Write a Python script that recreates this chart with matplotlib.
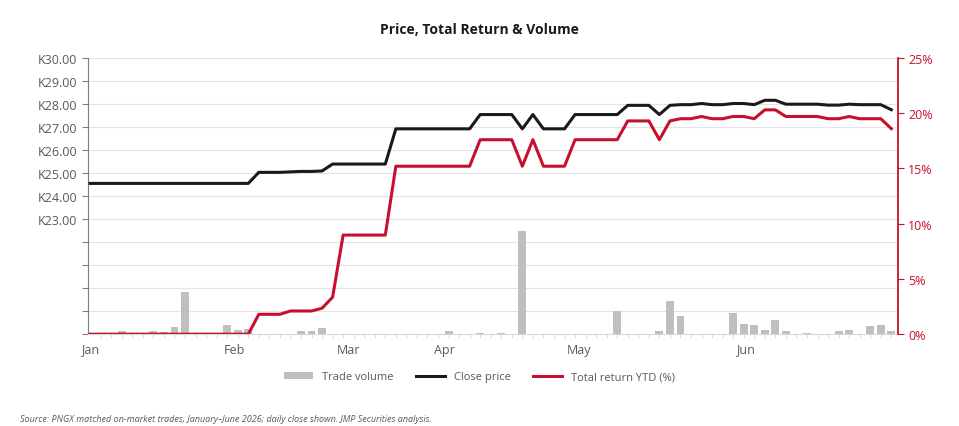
import numpy as np
import matplotlib
matplotlib.use("Agg")
import matplotlib.pyplot as plt
from matplotlib.ticker import FuncFormatter

plt.rcParams["font.family"] = ["Open Sans", "DejaVu Sans"]

# ── Data (one value per matched trading day) ─────────────────────────────────
close_price = (
    [24.55] * 16
    + [25.03, 25.03, 25.03, 25.05, 25.07, 25.07, 25.09]
    + [25.39] * 6
    + [26.92] * 8
    + [27.54, 27.54, 27.54, 27.54, 26.92, 27.54, 26.92, 26.92, 26.92]
    + [27.54] * 5
    + [27.94, 27.94, 27.94, 27.54, 27.94, 27.97, 27.97, 28.02, 27.97, 27.97,
       28.02, 28.02, 27.97, 28.16, 28.16, 27.99, 27.99, 27.99, 27.99, 27.95,
       27.95, 27.99, 27.97, 27.97, 27.97, 27.75]
)
total_return = (
    [0.0] * 16
    + [1.8, 1.8, 1.8, 2.1, 2.1, 2.1, 2.35, 3.35]
    + [8.97] * 5
    + [15.2] * 8
    + [17.6, 17.6, 17.6, 17.6, 15.2, 17.6, 15.2, 15.2, 15.2]
    + [17.6] * 5
    + [19.3, 19.3, 19.3, 17.6, 19.3, 19.5, 19.5, 19.7, 19.5, 19.5,
       19.7, 19.7, 19.5, 20.3, 20.3, 19.7, 19.7, 19.7, 19.7, 19.5,
       19.5, 19.7, 19.5, 19.5, 19.5, 18.6]
)
n_obs = len(close_price)

# trade volume ('000 shares), sparse
volume_idx = [3, 6, 7, 8, 9, 13, 14, 15, 20, 21, 22, 34, 37, 39, 41, 50, 54, 55,
              56, 61, 62, 63, 64, 65, 66, 68, 71, 72, 74, 75, 76, 77, 78]
volume_val = [3, 3, 2, 8, 46, 10, 5, 6, 4, 4, 7, 3, 1, 1, 112, 25, 3, 36,
              20, 23, 11, 10, 5, 15, 4, 1, 3, 5, 9, 10, 3, 3, 21]

month_labels = ["Jan", "Feb", "Mar", "Apr", "May", "Jun"]
month_pos = [0, 13.7, 24.5, 33.6, 46.4, 62.2]

price_ticks = np.arange(18, 31, 1)
return_ticks = [0, 5, 10, 15, 20, 25]

RED = "#C8102E"
GREY_TXT = "#595959"

# ── Figure ───────────────────────────────────────────────────────────────────
fig = plt.figure(figsize=(9.59, 4.27), dpi=100)
ax = fig.add_axes([0.0918, 0.215, 0.8442, 0.647])
ax_vol = ax.twinx()
ax_ret = ax.twinx()

x = np.arange(n_obs)

ax_vol.bar(volume_idx, volume_val, width=0.75, color="#BFBFBF", label="Trade volume", zorder=1)
ax_vol.set_ylim(0, 300)
ax_vol.axis("off")

ax.plot(x, close_price, color="#1A1A1A", lw=2.2, label="Close price", zorder=3)
ax.set_ylim(18, 30)
ax.set_yticks(price_ticks)
ax.yaxis.set_major_formatter(FuncFormatter(lambda v, p: f"K{v:.2f}" if v >= 23 else ""))
ax.grid(axis="y", color="#E3E3E3", lw=0.8)
ax.set_axisbelow(True)

ax_ret.plot(x, total_return, color=RED, lw=2.2, label="Total return YTD (%)", zorder=4)
ax_ret.set_ylim(0, 25)
ax_ret.set_yticks(return_ticks)
ax_ret.yaxis.set_major_formatter(FuncFormatter(lambda v, p: f"{v:.0f}%"))

ax.set_xlim(-0.2, n_obs - 0.4)
ax.set_xticks(month_pos)
ax.set_xticklabels(month_labels)
ax.set_xticks(x, minor=True)
ax.tick_params(axis="x", which="major", length=0, pad=6, labelsize=9, colors=GREY_TXT)
ax.tick_params(axis="x", which="minor", length=3, color="#D0D0D0")
ax.tick_params(axis="y", length=4, color="#7F7F7F", labelsize=9, colors=GREY_TXT)
ax_ret.tick_params(axis="y", length=4, color=RED, labelsize=9, labelcolor=RED)

for a in (ax, ax_ret, ax_vol):
    a.spines["top"].set_visible(False)
ax.spines["left"].set_color("#7F7F7F")
ax.spines["bottom"].set_color("#D9D9D9")
ax.spines["right"].set_visible(False)
ax_ret.spines["left"].set_visible(False)
ax_ret.spines["bottom"].set_visible(False)
ax_ret.spines["right"].set_color(RED)
ax_ret.spines["right"].set_linewidth(1.3)

fig.text(0.5, 0.93, "Price, Total Return & Volume", ha="center", va="center",
         fontsize=10, fontweight="bold", color="#1A1A1A")

handles = [ax_vol.containers[0], ax.get_lines()[0], ax_ret.get_lines()[0]]
fig.legend(handles, [h.get_label() for h in handles], loc="center", bbox_to_anchor=(0.5, 0.115),
           ncol=3, frameon=False, fontsize=8, handlelength=2.6, columnspacing=2.0,
           labelcolor=GREY_TXT)

fig.text(0.021, 0.008, "Source: PNGX matched on-market trades, January\u2013June 2026; daily close shown. JMP Securities analysis.",
         fontsize=6.5, style="italic", color=GREY_TXT, ha="left", va="bottom")

fig.savefig("out.png", dpi=100)
